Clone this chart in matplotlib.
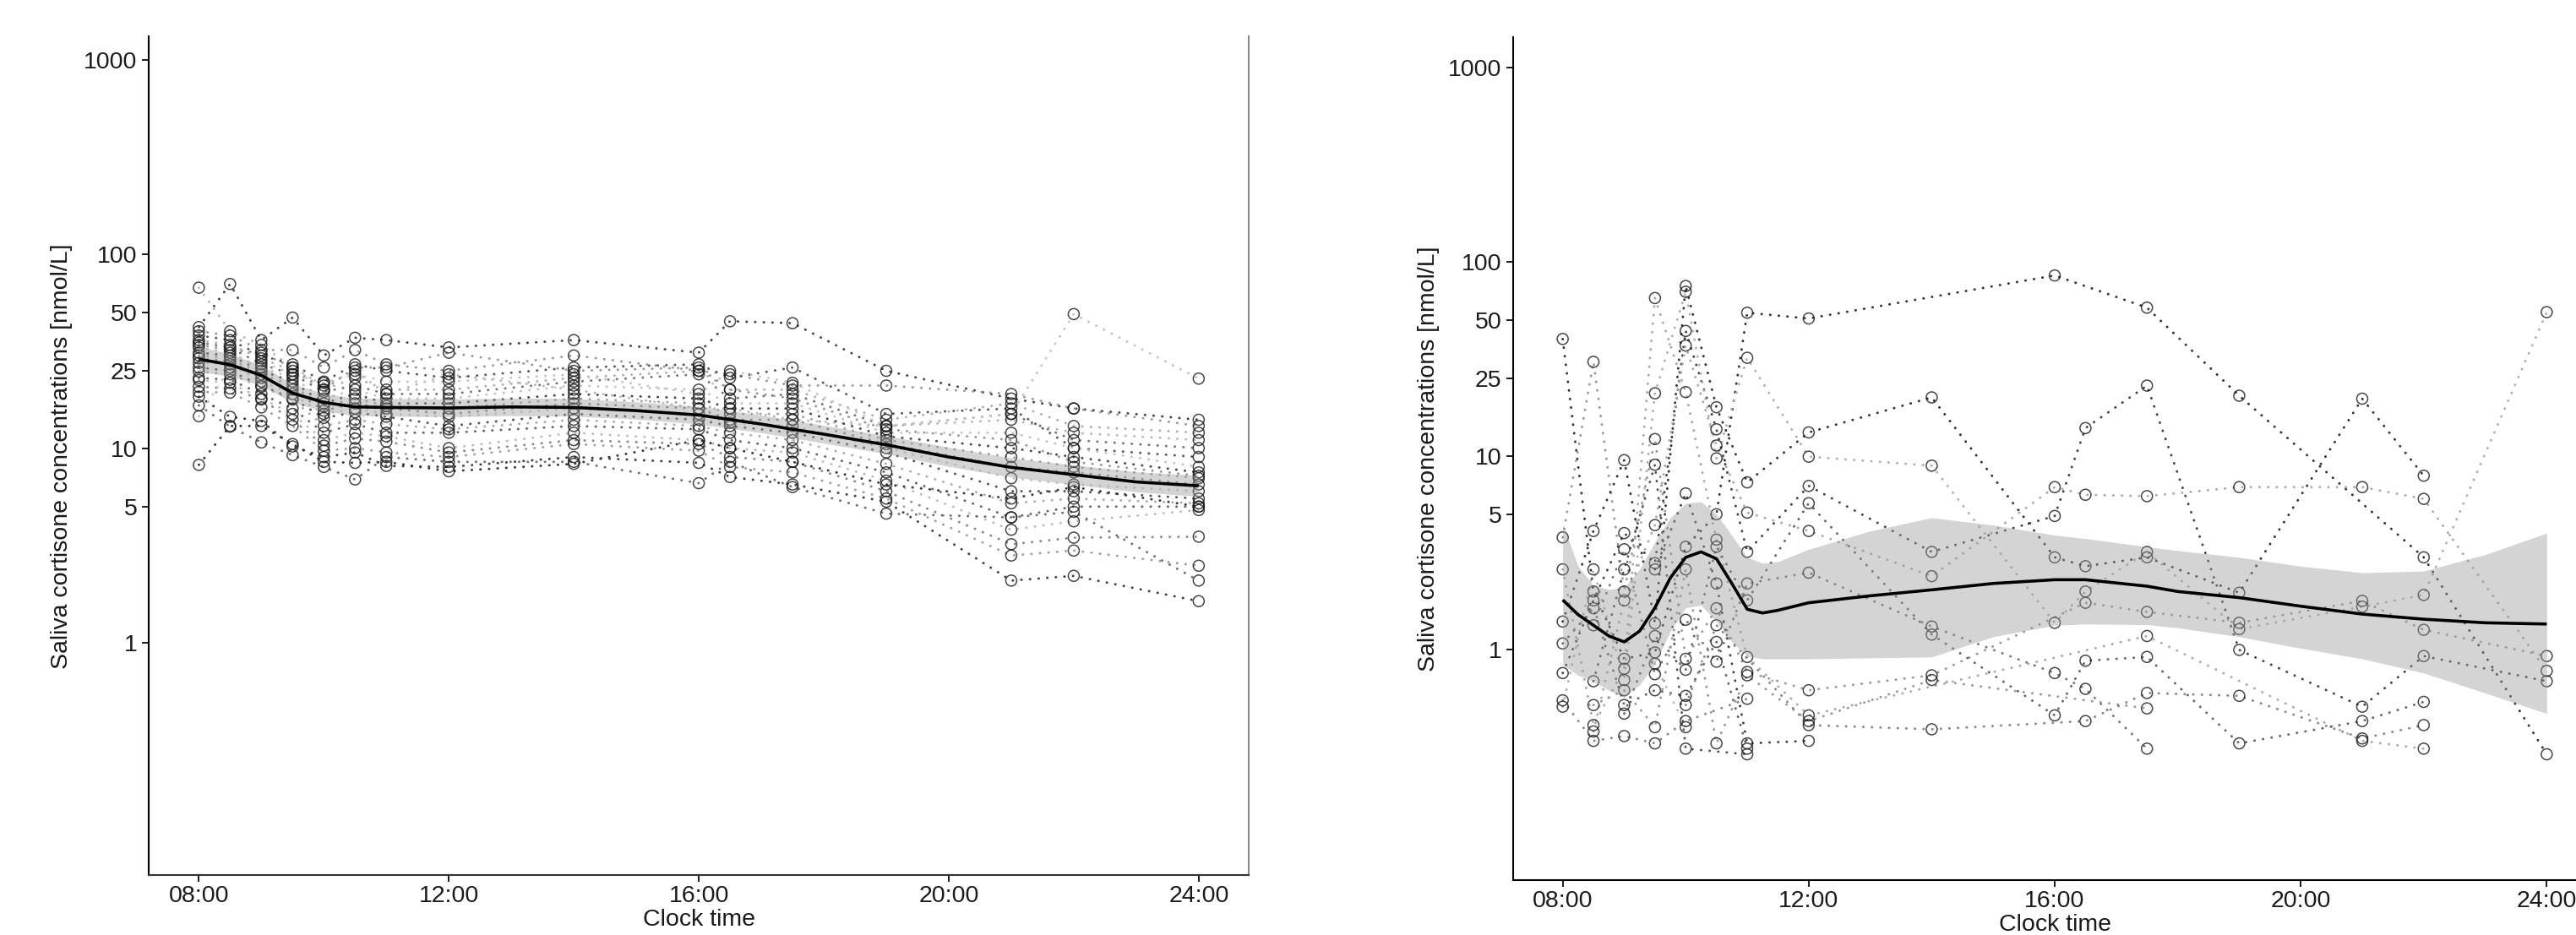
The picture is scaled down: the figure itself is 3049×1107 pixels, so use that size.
import numpy as np
import matplotlib
matplotlib.use('Agg')
import matplotlib.pyplot as plt

plt.rcParams['font.family'] = ['Liberation Sans', 'DejaVu Sans']

# sampling clock times (hours)
times = [8, 8.5, 9, 9.5, 10, 10.5, 11, 12, 14, 16, 16.5, 17.5, 19, 21, 22, 24]
N = None

# left panel: one row per subject (nmol/L)
left_subjects = [
    [67, 40, 34, 26, 21, 25, 19, 24, 20, 16, 16, 14, 13, 14, 12, 11],
    [42, 70, 36, 47, 30, 37, 36, 33, 36, 31, 45, 44, 25, 18, 16, 14],
    [40, 38, 32, 32, 26, 32, 27, 25, 30, 25, 24, 21, 21, 19, 16, 13],
    [38, 36, 30, 27, 22, 27, 25, 23, 26, 27, 23, 26, 15, 16, 10, 9],
    [36, 34, 29, 25, 20, 23, 20, 20, 23, 25, 20, 20, 14, 17, 13, 12],
    [35, 33, 27, 24, 19.5, 21, 19, 19, 22, 24, 18, 19, 13, 15, 11, 10],
    [33, 31, 26, 23, 18, 20, 18, 18, 21, 20, 17, 17, 12, 12, 10, 8],
    [31, 30, 25, 22, 17, 19, 17, 17, 19, 18, 16, 16, 11.5, 10, 9, 7.5],
    [30, 29, 24, 21, 16.4, 18, 16.5, 16, 18, 17, 15, 15, 11, 9, 8, 7],
    [29, 28, 23, 20, 15.6, 17, 16, 15, 17, 16, 14, 14, 10.5, 8, 7.5, 6.5],
    [27.5, 27, 22, 19, 15, 16, 15, 14.5, 16, 15, 13.5, 13, 10, 7, 6.5, 6],
    [26, 25, 21, 18, 14.3, 15.3, 14.5, 13, 15, 14, 13, 12, 9.5, 6, 6, 5.5],
    [24.8, 24, 20.7, 17.8, 13, 14, 13.3, 12.5, 14, 13, 12, 11, 8.3, 5.2, 5.5, 5.2],
    [23, 22.5, 19, 16, 12, 13.3, 12, 12, 13, 12.5, 11, 10, 7.5, 4.4, 5, 5],
    [22.4, 21.7, 18, 15, 11, 12, 11.5, 10, 12, 11, 10, 9.5, 6.8, 3.8, 4.2, 4.8],
    [20.7, 20.3, 17.8, 14, 10.3, 11.2, 10.8, 9.5, 11, 10.5, 9, 8.5, 6, 3.2, 3.46, 3.5],
    [19.5, 19.3, 16.2, 13, 9.7, 10, 9.5, 9, 10.5, 9.7, 8, 7.5, 5.5, 2.8, 2.97, 2.48],
    [18.4, 14.5, 13.8, 10.2, 9.0, 9.5, 8.1, 8.0, 9, 8.4, 7.1, 6.5, 5.3, 2.08, 2.2, 1.63],
    [16.6, 12.9, 10.7, 9.2, 8.0, 6.9, 9, 8.5, 8.5, 6.6, 8.5, 6.3, 4.6, 4.4, 4.7, 2.08],
    [14.6, 26, 28, 24, 21.7, 24, 22, 22, 24, 19, 25, 21.7, 13, 15, 49, 22.8],
    [8.2, 13, 13, 10.5, 8.5, 8.4, 8.5, 7.6, 8.3, 11, 10, 8.5, 6.5, 5.5, 6.3, 5.0],
    [34, 32, 31, 26, 20, 26, 26, 31, 25, 26, 20, 18, 12.5, 11, 8.5, 7.2],
]
left_grays = ['#b8b8b8', '#444444', '#9a9a9a', '#5a5a5a', '#b0b0b0', '#777777',
              '#c4c4c4', '#4a4a4a', '#a4a4a4', '#888888', '#c8c8c8', '#555555',
              '#acacac', '#666666', '#bcbcbc', '#8a8a8a', '#a0a0a0', '#404040',
              '#707070', '#c6c6c6', '#383838', '#999999']

# right panel: sparse sampling, None = no sample
right_subjects = [
    [40, 2.0, 0.9, 0.97, 3.4, 5.0, 54.6, 51, N, 85, N, 58, 20.4, N, 3.0, 0.29],
    [3.8, 30.5, 2.0, 12.2, 0.9, 1.64, 0.77, 0.62, 0.74, N, 1.75, 1.57, 1.38, 1.79, 1.27, 0.93],
    [2.6, 0.41, 0.8, 65, 21.3, 3.7, 0.92, 0.46, N, N, N, 1.18, N, 0.34, 0.31, N],
    [1.4, 4.1, 9.5, 1.37, 75, 17.8, 7.3, 13.2, 20, 3.0, 2.7, 3.0, 1.97, 19.7, 7.9, N],
    [1.08, 1.64, 0.52, 0.62, 0.58, 1.1, 0.31, N, N, N, N, N, N, N, N, N],
    [0.76, 1.8, 4.0, 2.8, 44, 13.7, 3.2, 7.0, 3.2, 4.9, 13.9, 23, 1.0, 0.51, 0.93, 0.69],
    [0.55, 0.34, 0.36, 0.33, 0.43, N, 0.56, N, N, N, N, N, N, N, N, N],
    [0.51, 2.6, 0.7, 21, 70, 9.7, 32, 9.9, 8.9, 1.38, 2.0, 3.2, 1.28, 1.67, 1.92, 55],
    [N, 1.34, 3.3, 0.75, 1.43, 0.87, 2.2, 2.5, 1.32, 0.76, 0.63, 0.31, N, N, N, N],
    [N, 0.69, 2.6, 9.0, 0.31, N, 0.29, N, N, N, N, N, N, N, N, N],
    [N, 0.52, 0.62, 0.4, 2.6, 0.33, 0.74, 0.43, 0.70, N, N, 0.5, N, N, N, N],
    [N, 0.38, 1.8, 4.4, 37, 11.3, 5.1, 4.1, 2.4, 6.9, 6.3, 6.2, 6.9, 6.9, 6.0, 0.78],
    [N, N, 0.47, 1.18, 0.79, 3.4, 1.8, 5.7, 1.2, 0.46, 0.88, 0.92, 0.33, 0.43, 0.54, N],
    [N, N, N, 2.6, 6.4, 2.2, 0.33, 0.34, N, N, N, N, N, N, N, N],
    [N, N, N, 0.85, 0.4, N, N, N, N, N, N, N, N, N, N, N],
    [N, N, N, N, 0.52, 1.34, N, 0.41, 0.39, N, 0.43, 0.6, 0.58, 0.35, 0.41, N],
]
right_grays = ['#333333', '#999999', '#aaaaaa', '#333333', '#666666', '#444444',
               '#888888', '#b0b0b0', '#777777', '#555555', '#999999', '#aaaaaa',
               '#666666', '#444444', '#bbbbbb', '#888888']

# smoothed mean with confidence band
left_fit_t = [8, 8.5, 9, 9.5, 10, 10.5, 11, 12, 13, 14, 15, 16, 17, 17.5, 18, 19, 20, 21, 22, 23, 24]
left_fit = [28.7, 26.9, 23.7, 19.2, 17.2, 16.3, 16.2, 16.1, 16.3, 16.2, 15.6, 14.8, 13.3, 12.5,
            11.8, 10.4, 9.0, 7.96, 7.3, 6.7, 6.4]
left_lo = [24.7, 23.5, 21.0, 17.2, 15.5, 14.7, 14.6, 14.5, 14.7, 14.6, 14.1, 13.3, 12.0, 11.3,
           10.6, 9.35, 8.05, 7.1, 6.5, 5.95, 5.65]
left_hi = [33.3, 30.6, 26.7, 21.4, 19.1, 18.1, 18.0, 17.9, 18.1, 18.0, 17.3, 16.4, 14.8, 13.9,
           13.1, 11.6, 10.1, 8.9, 8.2, 7.55, 7.25]

right_fit_t = [8, 8.25, 8.5, 8.75, 9, 9.25, 9.5, 9.75, 10, 10.25, 10.5, 10.75, 11, 11.25, 11.5,
               12, 13, 14, 15, 16, 16.5, 17.5, 18, 19, 20, 21, 22, 23, 24]
right_fit = [1.81, 1.52, 1.34, 1.18, 1.10, 1.25, 1.65, 2.35, 3.0, 3.2, 2.95, 2.2, 1.62, 1.55, 1.6,
             1.75, 1.9, 2.04, 2.2, 2.30, 2.30, 2.13, 2.0, 1.86, 1.68, 1.53, 1.44, 1.38, 1.36]
right_lo = [0.84, 0.74, 0.69, 0.62, 0.57, 0.66, 0.85, 1.25, 1.65, 1.7, 1.4, 1.1, 0.93, 0.9, 0.9,
            0.9, 0.91, 0.92, 1.17, 1.34, 1.36, 1.35, 1.3, 1.17, 1.02, 0.9, 0.76, 0.60, 0.47]
right_hi = [4.47, 2.7, 2.15, 2.05, 2.1, 2.6, 3.6, 4.8, 5.7, 5.8, 5.0, 3.9, 3.0, 2.8, 2.85,
            3.3, 4.1, 4.8, 4.4, 3.9, 3.75, 3.4, 3.25, 3.0, 2.7, 2.5, 2.55, 3.1, 4.0]

y_ticks = [1, 5, 10, 25, 50, 100, 1000]
x_ticks = [8, 12, 16, 20, 24]
x_labels = ['08:00', '12:00', '16:00', '20:00', '24:00']

FS = 20.5
TXT = '#1a1a1a'

fig = plt.figure(figsize=(30.49, 11.07), dpi=100)
axL = fig.add_axes([0.05779, 0.06369, 0.42696, 0.89702])
axR = fig.add_axes([0.58754, 0.05827, 0.42020, 0.90199])


def draw_panel(ax, subjects, grays, fit_t, fit, lo, hi, ylim, label_x):
    for vals, g in zip(subjects, grays):
        t = [ti for ti, v in zip(times, vals) if v is not None]
        v = [v for v in vals if v is not None]
        ax.plot(t, v, linestyle=(0, (0.1, 3.4)), lw=2.1, color=g,
                dash_capstyle='round', zorder=1)
        ax.scatter(t, v, s=88, facecolors='none', edgecolors='#1a1a1a',
                   linewidths=1.1, alpha=0.8, zorder=2)
    ax.fill_between(fit_t, lo, hi, color='#9a9a9a', alpha=0.42, lw=0, zorder=3)
    ax.plot(fit_t, fit, color='black', lw=2.6, zorder=4, solid_capstyle='butt')

    ax.set_yscale('log')
    ax.set_ylim(*ylim)
    ax.set_xlim(7.2, 24.8)
    ax.set_yticks(y_ticks)
    ax.set_yticklabels([str(v) for v in y_ticks])
    ax.yaxis.set_minor_locator(matplotlib.ticker.NullLocator())
    ax.set_xticks(x_ticks)
    ax.set_xticklabels(x_labels)
    ax.tick_params(axis='both', labelsize=FS, colors=TXT, length=5.5, width=1.4)
    ax.tick_params(axis='y', pad=4.5)
    ax.tick_params(axis='x', pad=3)

    ax.set_ylabel('Saliva cortisone concentrations [nmol/L]', fontsize=FS, color=TXT)
    ax.yaxis.set_label_coords(label_x, 0.5)
    ax.set_xlabel('Clock time', fontsize=FS, color=TXT)
    ax.xaxis.set_label_coords(0.5, -0.04)

    ax.spines['top'].set_visible(False)
    for s in ('left', 'bottom', 'right'):
        ax.spines[s].set_linewidth(1.5)
    ax.spines['left'].set_color('black')
    ax.spines['bottom'].set_color('#333333')


draw_panel(axL, left_subjects, left_grays, left_fit_t, left_fit, left_lo, left_hi,
           (10 ** -1.2, 10 ** 3.118), -0.0693)
axL.spines['right'].set_color('#888888')

draw_panel(axR, right_subjects, right_grays, right_fit_t, right_fit, right_lo, right_hi,
           (10 ** -1.188, 10 ** 3.157), -0.0682)
axR.spines['right'].set_visible(False)
axR.spines['bottom'].set_color('black')

fig.savefig('out.png', dpi=100)
